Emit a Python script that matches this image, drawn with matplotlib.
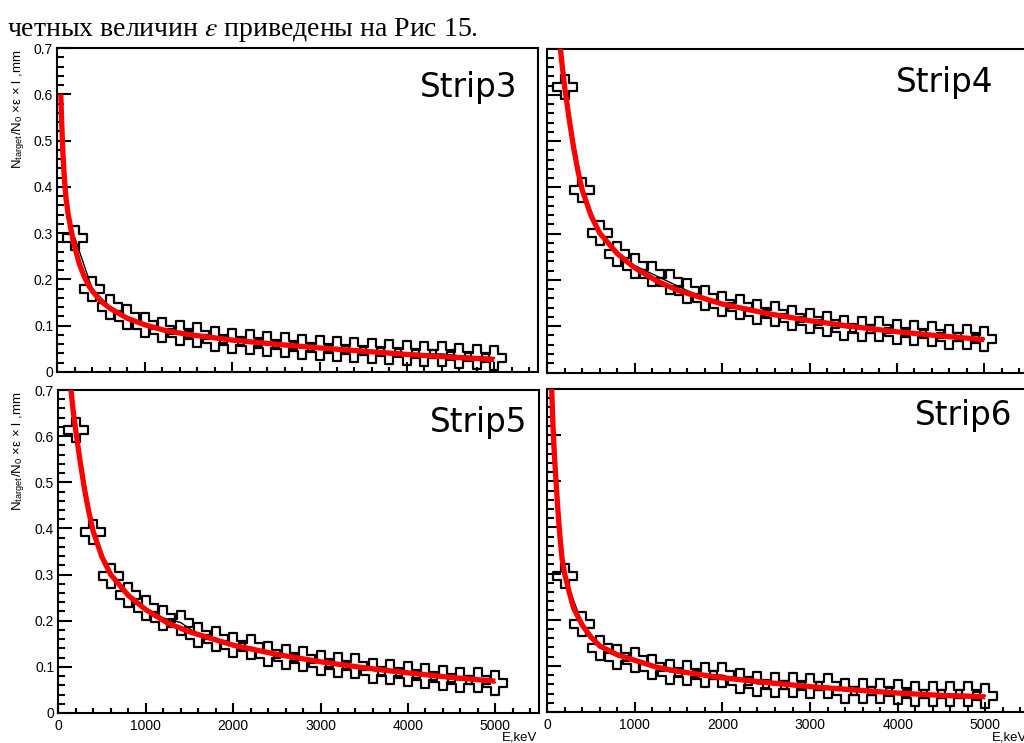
import matplotlib
matplotlib.use("Agg")
import matplotlib.pyplot as plt
from matplotlib.path import Path
from matplotlib.ticker import FixedLocator, FixedFormatter, MultipleLocator

# ---------------- data ----------------
energy = [200, 400, 600, 800, 1000, 1200, 1400, 1600, 1800, 2000, 2200, 2400, 2600,
          2800, 3000, 3200, 3400, 3600, 3800, 4000, 4200, 4400, 4600, 4800, 5000]

strip3 = [0.290, 0.179, 0.141, 0.119, 0.102, 0.090, 0.085, 0.080, 0.071, 0.068, 0.065,
          0.060, 0.058, 0.054, 0.051, 0.049, 0.047, 0.046, 0.044, 0.041, 0.039, 0.039,
          0.035, 0.033, 0.031]
strip4 = [0.617, 0.395, 0.301, 0.256, 0.231, 0.213, 0.195, 0.177, 0.162, 0.148, 0.141,
          0.130, 0.126, 0.117, 0.112, 0.105, 0.097, 0.095, 0.094, 0.087, 0.085, 0.083,
          0.077, 0.077, 0.072]
strip5 = [0.613, 0.393, 0.297, 0.256, 0.227, 0.206, 0.196, 0.170, 0.160, 0.148, 0.143,
          0.128, 0.121, 0.117, 0.108, 0.105, 0.101, 0.092, 0.088, 0.085, 0.081, 0.076,
          0.071, 0.071, 0.066]
strip6 = [0.294, 0.190, 0.139, 0.120, 0.112, 0.097, 0.087, 0.084, 0.081, 0.080, 0.068,
          0.061, 0.059, 0.059, 0.057, 0.056, 0.045, 0.045, 0.045, 0.043, 0.038, 0.038,
          0.038, 0.038, 0.035]

# fitted curves
fit3_e = [40, 50, 65, 80, 100, 125, 150, 180, 200, 250, 300, 350, 400, 500, 600, 800,
          1000, 1250, 1500, 2000, 2500, 3000, 3500, 4000, 4500, 5000]
fit3_v = [0.600, 0.540, 0.470, 0.420, 0.375, 0.340, 0.315, 0.285, 0.270, 0.235, 0.210,
          0.190, 0.175, 0.153, 0.138, 0.116, 0.102, 0.089, 0.081, 0.069, 0.060, 0.052,
          0.045, 0.038, 0.032, 0.027]
fit4_e = [140, 150, 175, 200, 250, 300, 350, 400, 500, 600, 800, 1000, 1250, 1500, 2000,
          2500, 3000, 3500, 4000, 4500, 5000]
fit4_v = [0.730, 0.700, 0.655, 0.615, 0.548, 0.487, 0.436, 0.394, 0.339, 0.301, 0.257,
          0.226, 0.198, 0.177, 0.148, 0.128, 0.112, 0.099, 0.088, 0.079, 0.071]
fit5_e = [135, 145, 170, 200, 250, 300, 350, 400, 500, 600, 800, 1000, 1250, 1500, 2000,
          2500, 3000, 3500, 4000, 4500, 5000]
fit5_v = [0.730, 0.700, 0.655, 0.612, 0.545, 0.485, 0.435, 0.393, 0.338, 0.300, 0.255,
          0.224, 0.195, 0.176, 0.147, 0.127, 0.111, 0.098, 0.087, 0.077, 0.069]
fit6_e = [45, 50, 65, 80, 100, 120, 140, 170, 200, 250, 300, 400, 500, 600, 800, 1000,
          1250, 1500, 2000, 2500, 3000, 3500, 4000, 4500, 5000]
fit6_v = [0.730, 0.700, 0.620, 0.560, 0.500, 0.440, 0.390, 0.330, 0.298, 0.260, 0.225,
          0.188, 0.162, 0.143, 0.124, 0.112, 0.097, 0.088, 0.074, 0.064, 0.055, 0.048,
          0.041, 0.036, 0.033]

strip_names = ["Strip3", "Strip4", "Strip5", "Strip6"]
xtick_values = [0, 1000, 2000, 3000, 4000, 5000]
xtick_labels = ["0", "1000", "2000", "3000", "4000", "5000"]
ytick_values = [0, 0.1, 0.2, 0.3, 0.4, 0.5, 0.6, 0.7]
ytick_labels = ["0", "0.1", "0.2", "0.3", "0.4", "0.5", "0.6", "0.7"]
x_title = "E,keV"
y_title = r"N$_{\mathregular{target}}$/N$_{\mathregular{0}}$ ×ε × l ,mm"
header = r"четных величин $\varepsilon$ приведены на Рис 15."

# ---------------- figure ----------------
plt.rcParams["mathtext.fontset"] = "stix"
W, H = 1024, 743
fig = plt.figure(figsize=(W / 100, H / 100), dpi=100)
fig.patch.set_facecolor("white")

def px_axes(l, t, r, b):
    return fig.add_axes([l / W, 1 - b / H, (r - l) / W, (b - t) / H])

# open-cross marker
a = 0.38
cross = Path([(-a, 1), (a, 1), (a, a), (1, a), (1, -a), (a, -a), (a, -1), (-a, -1),
              (-a, -a), (-1, -a), (-1, a), (-a, a), (-a, 1)],
             [Path.MOVETO] + [Path.LINETO] * 11 + [Path.CLOSEPOLY])

panels = [
    dict(box=(57.3, 48, 538, 372), data=strip3, fe=fit3_e, fv=fit3_v, xl=False, yl=True,
         name_pos=(420, 97)),
    dict(box=(547.3, 48.5, 1028, 372.5), data=strip4, fe=fit4_e, fv=fit4_v, xl=False, yl=False,
         name_pos=(896, 92)),
    dict(box=(58.3, 390, 539, 713), data=strip5, fe=fit5_e, fv=fit5_v, xl=True, yl=True,
         name_pos=(430, 432)),
    dict(box=(547.3, 389, 1029, 712), data=strip6, fe=fit6_e, fv=fit6_v, xl=True, yl=False,
         name_pos=(915, 425)),
]

tick_font = "Liberation Sans"

for p, name in zip(panels, strip_names):
    ax = px_axes(*p["box"])
    ax.set_xlim(0, 5500)
    ax.set_ylim(0, 0.7)
    ax.plot(energy, p["data"], color="black", lw=1.0, zorder=2)
    ax.plot(energy, p["data"], linestyle="none", marker=cross, markersize=17,
            markerfacecolor="none", markeredgecolor="black", markeredgewidth=1.6, zorder=3)
    ax.plot(p["fe"], p["fv"], color="#ff0000", lw=3.8, zorder=4, solid_capstyle="butt")

    ax.xaxis.set_major_locator(FixedLocator(xtick_values))
    ax.xaxis.set_minor_locator(MultipleLocator(200))
    ax.yaxis.set_major_locator(FixedLocator(ytick_values))
    ax.yaxis.set_minor_locator(MultipleLocator(0.02))
    ax.xaxis.set_major_formatter(FixedFormatter(xtick_labels))
    ax.yaxis.set_major_formatter(FixedFormatter(ytick_labels))

    ax.tick_params(which="both", direction="in", top=False, right=False, width=1.5,
                   labelsize=10)
    ax.tick_params(axis="x", which="major", length=7, pad=4, labelbottom=p["xl"])
    ax.tick_params(axis="x", which="minor", length=3.6)
    ax.tick_params(axis="y", which="major", length=10, pad=3, labelleft=p["yl"])
    ax.tick_params(axis="y", which="minor", length=5)
    for lab in ax.get_xticklabels() + ax.get_yticklabels():
        lab.set_fontfamily(tick_font)
    for s in ax.spines.values():
        s.set_linewidth(1.5)

    if p["yl"]:
        ax.set_ylabel(y_title, fontsize=9.5, fontfamily=tick_font, loc="top")
        ax.yaxis.set_label_coords((27 - p["box"][0]) / (p["box"][2] - p["box"][0]), 0.995)
    if p["xl"]:
        fig.text((p["box"][2] - 2) / W, 1 - 740 / H, x_title, fontsize=9.5,
                 fontfamily=tick_font, ha="right", va="baseline")

    nx, ny = p["name_pos"]
    fig.text(nx / W, 1 - ny / H, name, fontsize=23.5, fontfamily="DejaVu Sans",
             ha="left", va="baseline")

fig.text(7 / W, 1 - 36 / H, header, fontsize=20, fontfamily="Liberation Serif",
         ha="left", va="baseline")

fig.savefig("out.png", dpi=100, facecolor="white")
